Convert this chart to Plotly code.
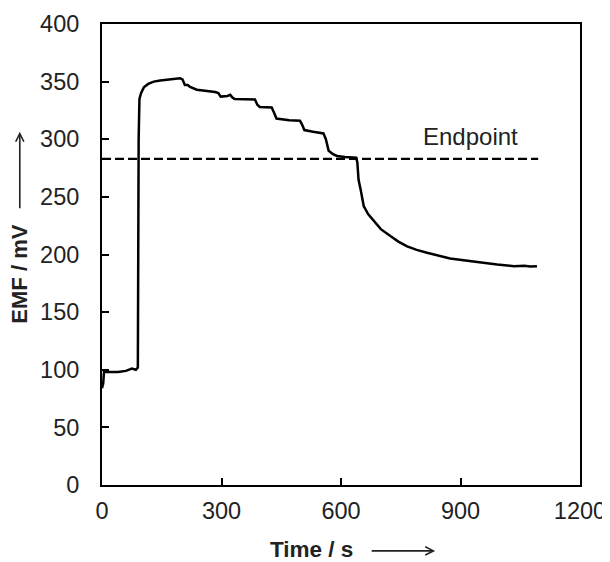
import plotly.graph_objects as go

# titration curve
time_s = [0, 3, 5, 15, 40, 60, 75, 85, 90, 92, 94, 98, 105, 116, 130, 146, 171, 196, 202,
          208, 215, 221, 238, 263, 284, 292, 298, 315, 322, 328, 333, 384, 390, 396, 426,
          432, 438, 470, 497, 502, 508, 530, 556, 562, 569, 580, 590, 610, 623, 638, 641,
          644, 650, 657, 668, 682, 700, 724, 745, 766, 790, 816, 845, 874, 903, 933, 962,
          992, 1010, 1034, 1060, 1075, 1092]
emf_mv = [84, 88, 98, 98, 98, 99, 101, 100, 102, 300, 335, 340, 345, 348, 350, 351, 352, 353, 352,
          347, 347, 345.5, 343, 342, 341, 340, 337, 337.5, 338.5, 336, 335, 334.5, 330, 328, 327.5,
          323, 318, 316.5, 316, 313, 308, 306.5, 305, 300, 290, 287, 285.5, 284.5, 284, 284, 280,
          265, 255, 242, 235, 229, 222, 216, 211, 207, 204, 201.5, 199, 196.5, 195.2, 194.2, 192.7,
          191.3, 190.5, 189.9, 190.2, 189.5, 189.9]

endpoint_time = [0, 1095]
endpoint_emf = [283, 283]

x_ticks = [0, 300, 600, 900, 1200]
y_ticks = [0, 50, 100, 150, 200, 250, 300, 350, 400]

FONT = "Liberation Sans, Arial, sans-serif"

fig = go.Figure()
fig.add_trace(go.Scatter(x=endpoint_time, y=endpoint_emf, mode="lines",
                         line=dict(color="black", width=2.2, dash="9px,4px")))
fig.add_trace(go.Scatter(x=time_s, y=emf_mv, mode="lines",
                         line=dict(color="black", width=2.5)))

axis_style = dict(showline=True, linecolor="black", linewidth=2, mirror=True,
                  ticks="inside", ticklen=7, tickwidth=2, tickcolor="black",
                  showgrid=False, zeroline=False, automargin=False,
                  tickfont=dict(family=FONT, size=23.5, color="#222"))

fig.update_xaxes(range=[0, 1200], tickvals=x_ticks, ticklabelstandoff=4, **axis_style)
fig.update_yaxes(range=[0, 400], tickvals=y_ticks, ticklabelstandoff=16, **axis_style)

fig.add_annotation(x=925, y=302, xref="x", yref="y", text="Endpoint", showarrow=False,
                   font=dict(family=FONT, size=24, color="#222"))

# axis titles with long arrows
fig.add_annotation(x=0.438, y=-0.14, xref="paper", yref="paper", yanchor="middle",
                   text="<b>Time / s</b>", showarrow=False,
                   font=dict(family=FONT, size=22.5, color="#222"))
fig.add_annotation(x=0.697, y=-0.143, xref="paper", yref="paper", text="",
                   showarrow=True, arrowhead=5, arrowsize=1, arrowwidth=1.6,
                   arrowcolor="#222", ax=-65, ay=0)
fig.add_annotation(x=-0.172, y=0.458, xref="paper", yref="paper", xanchor="center",
                   text="<b>EMF / mV</b>", showarrow=False, textangle=-90,
                   font=dict(family=FONT, size=22, color="#222"))
fig.add_annotation(x=-0.172, y=0.766, xref="paper", yref="paper", text="",
                   showarrow=True, arrowhead=5, arrowsize=1, arrowwidth=1.6,
                   arrowcolor="#222", ax=0, ay=78)

# page body has an 8px margin, so the figure is shrunk and shifted to fit the window
fig.update_layout(width=602, height=554, showlegend=False,
                  margin=dict(l=94, r=30, t=16, b=77),
                  plot_bgcolor="white", paper_bgcolor="white")

fig.write_html("out.html")
